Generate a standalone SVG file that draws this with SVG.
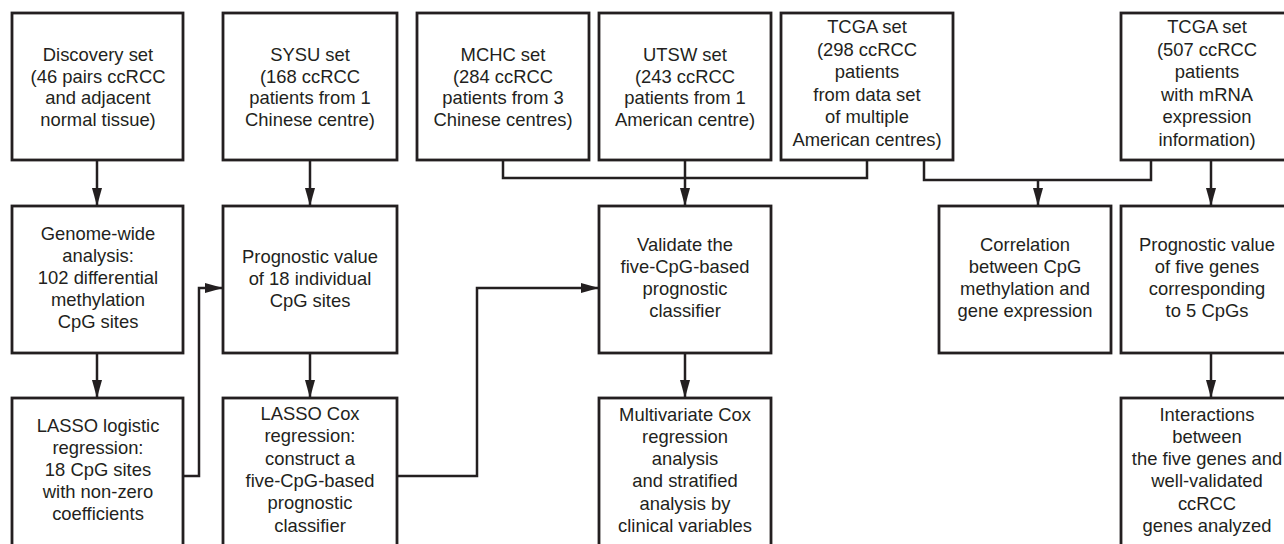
<svg xmlns="http://www.w3.org/2000/svg" width="1284" height="544" viewBox="0 0 1284 544">
<style>
.box{fill:#fff;stroke:#231f20;stroke-width:2.8}
.t{font-family:"Liberation Sans",Arial,sans-serif;font-size:18.4px;fill:#231f20;text-anchor:middle}
.c{fill:none;stroke:#231f20;stroke-width:2.5}
</style>
<defs>
<marker id="ah" viewBox="0 0 18 10" refX="18" refY="5" markerWidth="18" markerHeight="10" markerUnits="userSpaceOnUse" orient="auto">
<path d="M0,0 L18,5 L0,10 Z" fill="#231f20"/>
</marker>
</defs>
<rect width="1284" height="544" fill="#fff"/>
<g id="connectors">
<path class="c" d="M97,160 V206" marker-end="url(#ah)"/>
<path class="c" d="M310,160 V206" marker-end="url(#ah)"/>
<path class="c" d="M503,160 V178 H867 V160"/>
<path class="c" d="M685,160 V206" marker-end="url(#ah)"/>
<path class="c" d="M924,160 V180 H1151 V160"/>
<path class="c" d="M1038,180 V206" marker-end="url(#ah)"/>
<path class="c" d="M1211,160 V206" marker-end="url(#ah)"/>
<path class="c" d="M97,353 V398" marker-end="url(#ah)"/>
<path class="c" d="M310,353 V398" marker-end="url(#ah)"/>
<path class="c" d="M183,476 H199 V288 H223" marker-end="url(#ah)"/>
<path class="c" d="M397,476 H477 V288 H599" marker-end="url(#ah)"/>
<path class="c" d="M685,353 V398" marker-end="url(#ah)"/>
<path class="c" d="M1211,353 V398" marker-end="url(#ah)"/>
</g>
<g id="discovery">
<rect class="box" x="12" y="13" width="171" height="147"/>
<text class="t" x="98" y="61">Discovery set</text>
<text class="t" x="98" y="82.7">(46 pairs ccRCC</text>
<text class="t" x="98" y="104.4">and adjacent</text>
<text class="t" x="98" y="126.1">normal tissue)</text>
</g>
<g id="sysu">
<rect class="box" x="223" y="13" width="174" height="147"/>
<text class="t" x="310" y="61">SYSU set</text>
<text class="t" x="310" y="82.7">(168 ccRCC</text>
<text class="t" x="310" y="104.4">patients from 1</text>
<text class="t" x="310" y="126.1">Chinese centre)</text>
</g>
<g id="mchc">
<rect class="box" x="417" y="13" width="172" height="147"/>
<text class="t" x="503" y="61">MCHC set</text>
<text class="t" x="503" y="82.7">(284 ccRCC</text>
<text class="t" x="503" y="104.4">patients from 3</text>
<text class="t" x="503" y="126.1">Chinese centres)</text>
</g>
<g id="utsw">
<rect class="box" x="599" y="13" width="172" height="147"/>
<text class="t" x="685" y="61">UTSW set</text>
<text class="t" x="685" y="82.7">(243 ccRCC</text>
<text class="t" x="685" y="104.4">patients from 1</text>
<text class="t" x="685" y="126.1">American centre)</text>
</g>
<g id="tcga298">
<rect class="box" x="781" y="13" width="172" height="147"/>
<text class="t" x="867" y="33">TCGA set</text>
<text class="t" x="867" y="55.5">(298 ccRCC</text>
<text class="t" x="867" y="78">patients</text>
<text class="t" x="867" y="100.5">from data set</text>
<text class="t" x="867" y="123">of multiple</text>
<text class="t" x="867" y="145.5">American centres)</text>
</g>
<g id="tcga507">
<rect class="box" x="1121" y="13" width="172" height="147"/>
<text class="t" x="1207" y="33">TCGA set</text>
<text class="t" x="1207" y="55.5">(507 ccRCC</text>
<text class="t" x="1207" y="78">patients</text>
<text class="t" x="1207" y="100.5">with mRNA</text>
<text class="t" x="1207" y="123">expression</text>
<text class="t" x="1207" y="145.5">information)</text>
</g>
<g id="genome">
<rect class="box" x="12" y="206" width="171" height="147"/>
<text class="t" x="98" y="239.5">Genome-wide</text>
<text class="t" x="98" y="261.5">analysis:</text>
<text class="t" x="98" y="283.5">102 differential</text>
<text class="t" x="98" y="305.5">methylation</text>
<text class="t" x="98" y="327.5">CpG sites</text>
</g>
<g id="prog18">
<rect class="box" x="223" y="206" width="174" height="147"/>
<text class="t" x="310" y="262.5">Prognostic value</text>
<text class="t" x="310" y="284.5">of 18 individual</text>
<text class="t" x="310" y="306.5">CpG sites</text>
</g>
<g id="validate">
<rect class="box" x="599" y="206" width="172" height="147"/>
<text class="t" x="685" y="250.5">Validate the</text>
<text class="t" x="685" y="272.8">five-CpG-based</text>
<text class="t" x="685" y="295.1">prognostic</text>
<text class="t" x="685" y="317.4">classifier</text>
</g>
<g id="correlation">
<rect class="box" x="939" y="206" width="172" height="147"/>
<text class="t" x="1025" y="250.5">Correlation</text>
<text class="t" x="1025" y="272.8">between CpG</text>
<text class="t" x="1025" y="295.1">methylation and</text>
<text class="t" x="1025" y="317.4">gene expression</text>
</g>
<g id="prog5">
<rect class="box" x="1121" y="206" width="172" height="147"/>
<text class="t" x="1207" y="250.5">Prognostic value</text>
<text class="t" x="1207" y="272.8">of five genes</text>
<text class="t" x="1207" y="295.1">corresponding</text>
<text class="t" x="1207" y="317.4">to 5 CpGs</text>
</g>
<g id="lassolog">
<rect class="box" x="12" y="398" width="171" height="150"/>
<text class="t" x="98" y="431.5">LASSO logistic</text>
<text class="t" x="98" y="453.5">regression:</text>
<text class="t" x="98" y="475.5">18 CpG sites</text>
<text class="t" x="98" y="497.5">with non-zero</text>
<text class="t" x="98" y="519.5">coefficients</text>
</g>
<g id="lassocox">
<rect class="box" x="223" y="398" width="174" height="150"/>
<text class="t" x="310" y="420">LASSO Cox</text>
<text class="t" x="310" y="442.3">regression:</text>
<text class="t" x="310" y="464.6">construct a</text>
<text class="t" x="310" y="486.9">five-CpG-based</text>
<text class="t" x="310" y="509.2">prognostic</text>
<text class="t" x="310" y="531.5">classifier</text>
</g>
<g id="multivariate">
<rect class="box" x="599" y="398" width="172" height="150"/>
<text class="t" x="685" y="420.5">Multivariate Cox</text>
<text class="t" x="685" y="442.8">regression</text>
<text class="t" x="685" y="465.1">analysis</text>
<text class="t" x="685" y="487.4">and stratified</text>
<text class="t" x="685" y="509.7">analysis by</text>
<text class="t" x="685" y="532">clinical variables</text>
</g>
<g id="interactions">
<rect class="box" x="1121" y="398" width="172" height="150"/>
<text class="t" x="1207" y="420.5">Interactions</text>
<text class="t" x="1207" y="442.8">between</text>
<text class="t" x="1207" y="465.1">the five genes and</text>
<text class="t" x="1207" y="487.4">well-validated</text>
<text class="t" x="1207" y="509.7">ccRCC</text>
<text class="t" x="1207" y="532">genes analyzed</text>
</g>
</svg>
